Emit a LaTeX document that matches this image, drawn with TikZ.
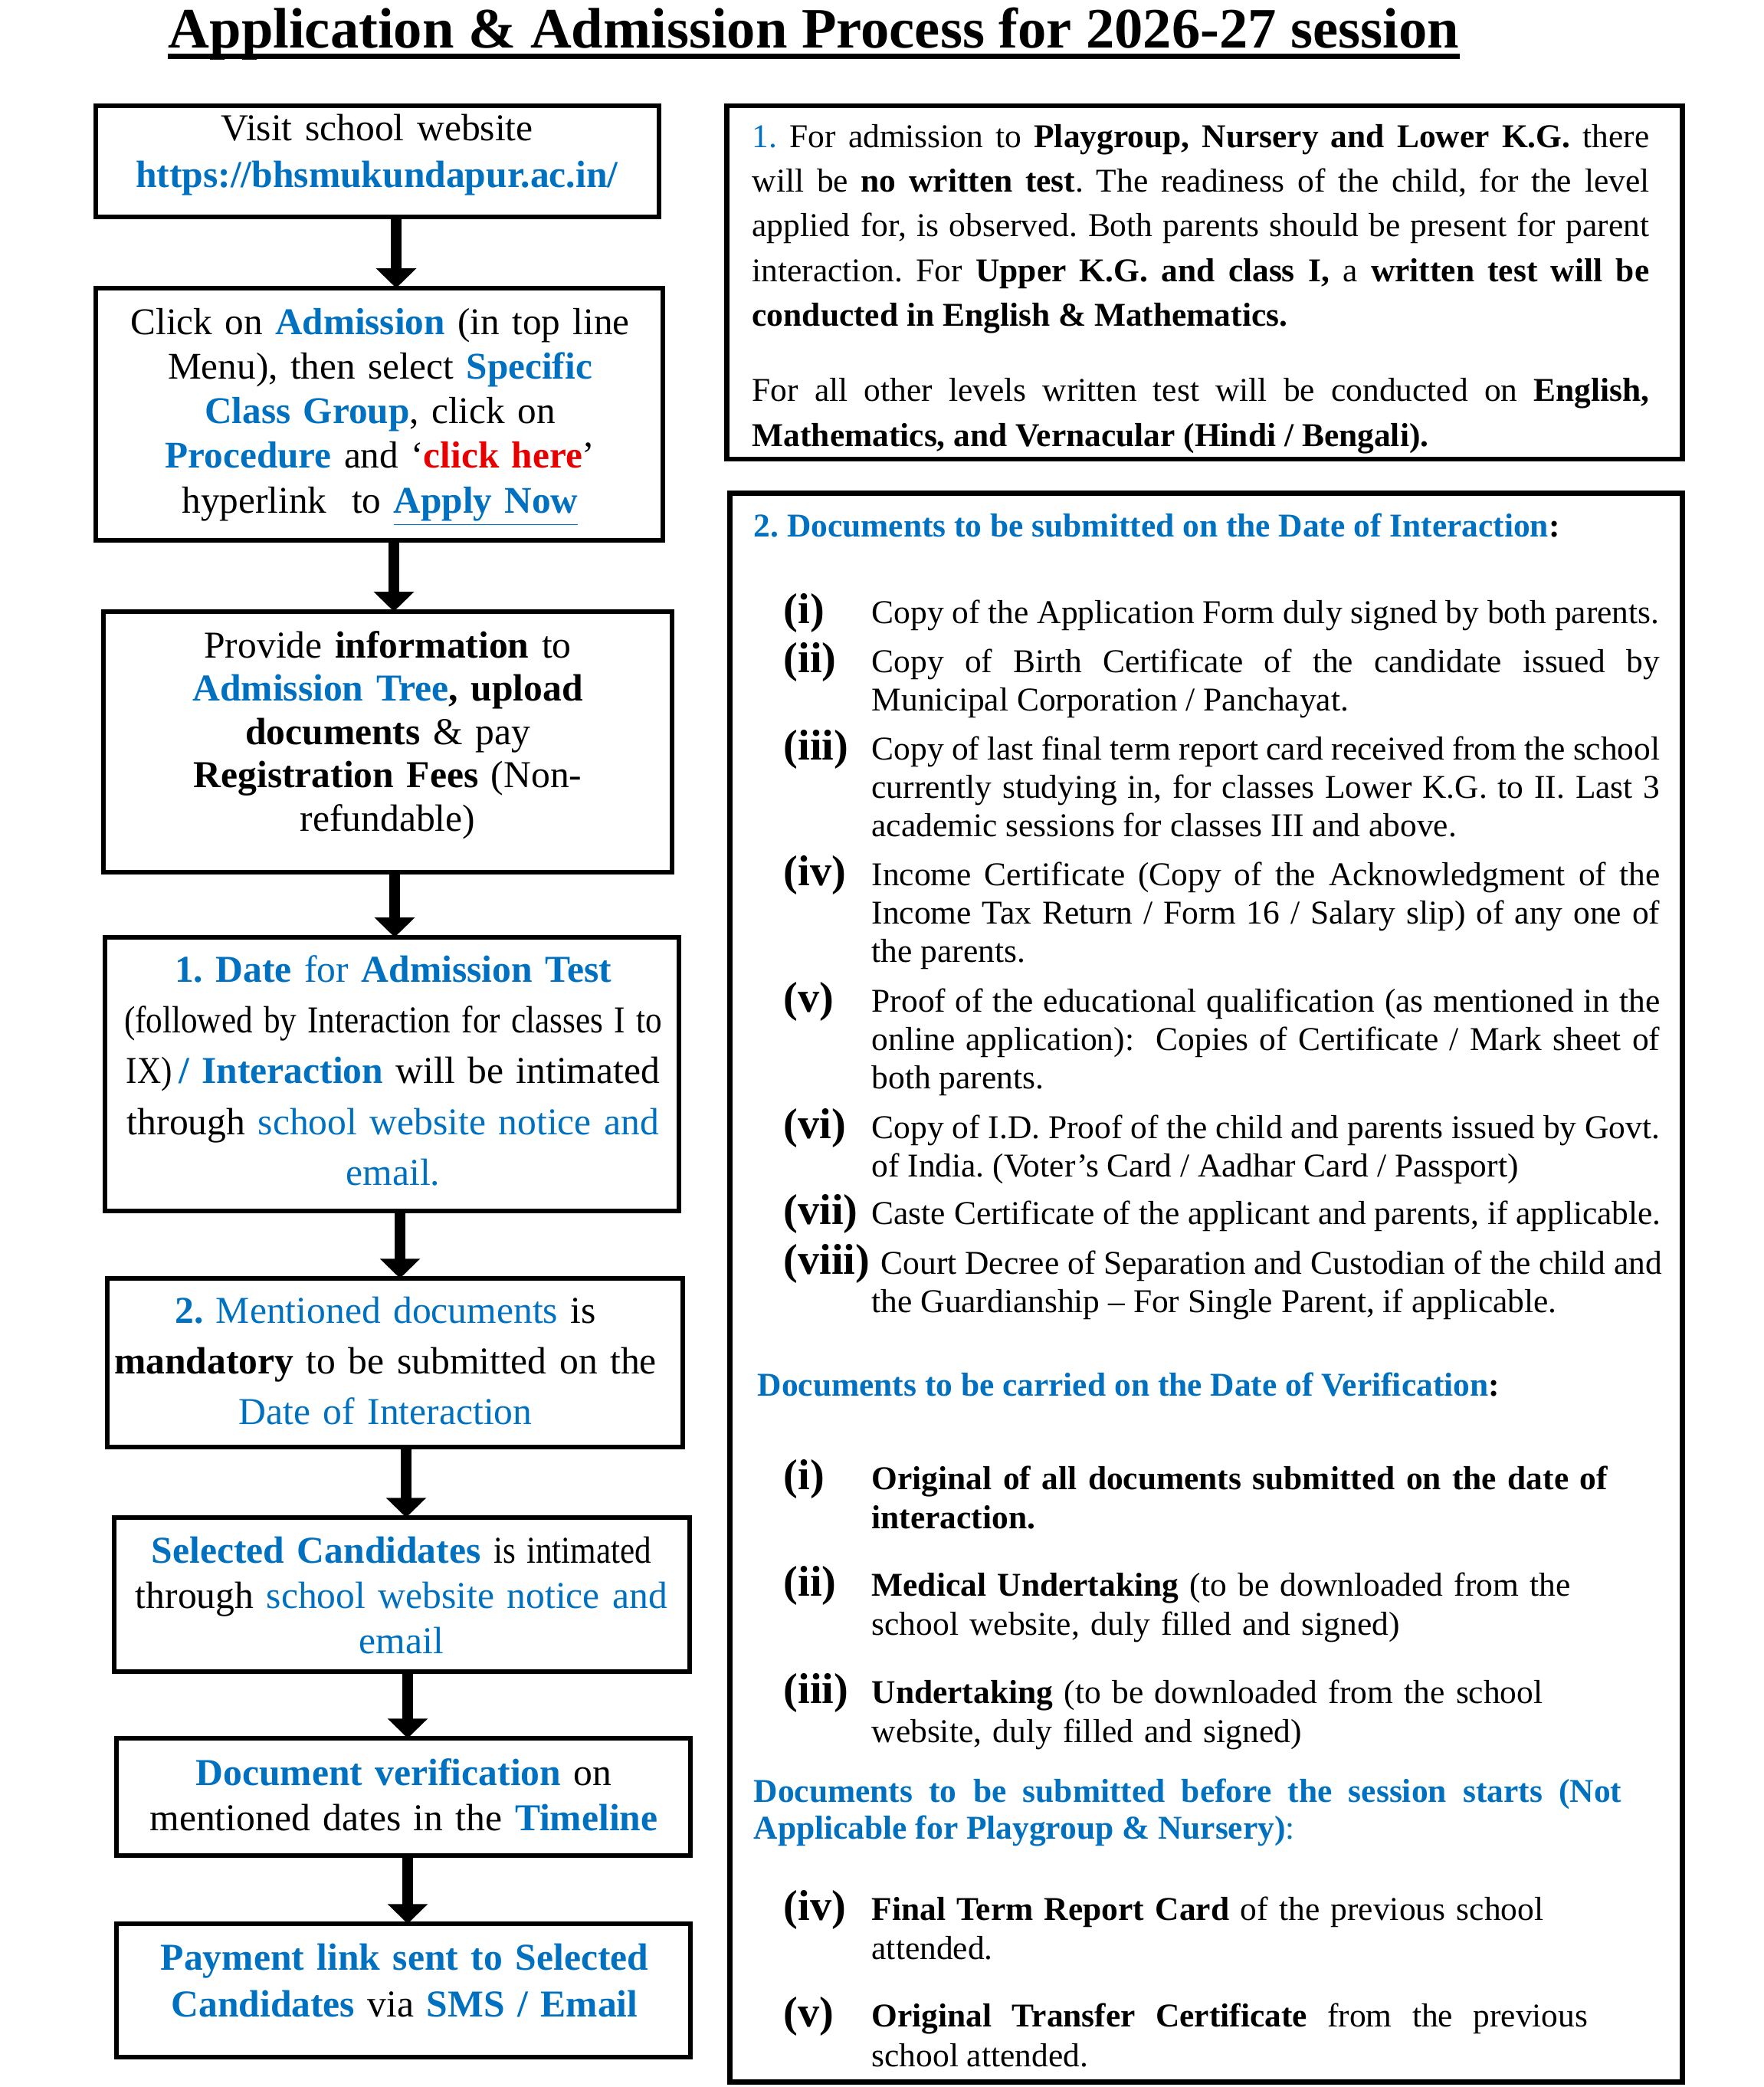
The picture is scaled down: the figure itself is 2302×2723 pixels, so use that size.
\documentclass[tikz,border=0pt]{standalone}
\usepackage{fontspec}
\usepackage{graphicx}
\setmainfont{Liberation Serif}
\usetikzlibrary{arrows.meta}
\definecolor{bl}{RGB}{0,112,192}
\definecolor{rd}{RGB}{232,0,0}
\newcommand\bb[1]{\textcolor{bl}{\textbf{#1}}}
\newcommand\bn[1]{\textcolor{bl}{#1}}
\newcommand\cnd[1]{\scalebox{0.87}[1]{#1}}
\frenchspacing
\begin{document}
\frenchspacing
\begin{tikzpicture}[x=0.01cm,y=-0.01cm,
  box/.style={draw, line width=1.85pt, inner sep=0pt, outer sep=0pt},
  arr/.style={line width=4pt, -{Triangle[width=14.5pt,length=7.3pt]}},
  ltx/.style={inner sep=0pt, anchor=base, text width=7.3cm, align=center},
  lab/.style={inner sep=0pt, anchor=base west, font=\fontsize{16}{16}\selectfont\bfseries},
  itx/.style={inner sep=0pt, anchor=base west, text width=10.28cm, align=justify, font=\fontsize{12.35}{14.3}\selectfont},
  one/.style={inner sep=0pt, anchor=base west, font=\fontsize{12.35}{14.3}\selectfont},
  rag/.style={inner sep=0pt, anchor=base west, text width=10.6cm, align=left, font=\fontsize{12.35}{14.5}\selectfont},
]
\useasboundingbox (0,0) rectangle (2302,2723);

% title
\node[inner sep=0pt, anchor=base, font=\fontsize{21.2}{24}\selectfont\bfseries] (title) at (1062,62)
  {Application \& Admission Process for 2026-27 session};
\draw[line width=2pt] ([yshift=-0.11cm]title.base west) -- ([yshift=-0.11cm]title.base east);

% left boxes
\node[box, minimum width=7.35cm, minimum height=1.45cm] (b1) at (492.5,210.5) {};
\node[box, minimum width=7.40cm, minimum height=3.29cm] (b2) at (495,540.5) {};
\node[box, minimum width=7.42cm, minimum height=3.40cm] (b3) at (506,968) {};
\node[box, minimum width=7.49cm, minimum height=3.57cm] (b4) at (511.5,1401.5) {};
\node[box, minimum width=7.51cm, minimum height=2.20cm] (b5) at (515.5,1778) {};
\node[box, minimum width=7.51cm, minimum height=2.01cm] (b6) at (524.5,2080.5) {};
\node[box, minimum width=7.49cm, minimum height=1.53cm] (b7) at (526.5,2344.5) {};
\node[box, minimum width=7.49cm, minimum height=1.74cm] (b8) at (526.5,2597) {};

% right boxes
\node[box, minimum width=12.46cm, minimum height=4.61cm] (r1) at (1572,368.5) {};
\node[box, minimum width=12.42cm, minimum height=20.72cm] (r2) at (1574,1680) {};

% arrows
\coordinate (x1) at (517,0);
\coordinate (x2) at (514,0);
\coordinate (x3) at (515,0);
\coordinate (x4) at (522,0);
\coordinate (x5) at (530,0);
\coordinate (x6) at (532,0);
\coordinate (x7) at (532,0);
\draw[arr] (b1.south -| x1) -- (b2.north -| x1);
\draw[arr] (b2.south -| x2) -- (b3.north -| x2);
\draw[arr] (b3.south -| x3) -- (b4.north -| x3);
\draw[arr] (b4.south -| x4) -- (b5.north -| x4);
\draw[arr] (b5.south -| x5) -- (b6.north -| x5);
\draw[arr] (b6.south -| x6) -- (b7.north -| x6);
\draw[arr] (b7.south -| x7) -- (b8.north -| x7);

% left texts
\node[ltx, font=\fontsize{14.1}{17.35}\selectfont] (t1) at (492,183)
  {Visit school website\\ \bb{https://bhsmukundapur.ac.in/}};
\node[ltx, font=\fontsize{14}{16.57}\selectfont] (t2) at (496,436)
  {Click on \bb{Admission} (in top line\\ Menu), then select \bb{Specific}\\ \bb{Class Group}, click on\\
   \bb{Procedure} and ‘\textcolor{rd}{\textbf{click here}}’\\ hyperlink\ \ to \textcolor{bl}{\textbf{\underline{Apply Now}}}};
\node[ltx, font=\fontsize{14.1}{16.07}\selectfont] (t3) at (506,858)
  {Provide \textbf{information} to\\ \bb{Admission Tree}\textbf{, upload}\\ \textbf{documents} \& pay\\
   \textbf{Registration Fees} (Non-\\ refundable)};
\node[ltx, font=\fontsize{14.1}{18.9}\selectfont] (t4) at (513,1281)
  {\bb{1. Date} \bn{for} \bb{Admission Test}\\ \cnd{(followed by Interaction for classes I to}\\
   \cnd{IX)}\,\bb{/ Interaction} will be intimated\\ through \bn{school website notice and}\\ \bn{email.}};
\node[ltx, font=\fontsize{14.1}{18.8}\selectfont] (t5) at (503,1726)
  {\bb{2.} \bn{Mentioned documents} is\\ \textbf{mandatory} to be submitted on the\\ \bn{Date of Interaction}};
\node[ltx, font=\fontsize{14.1}{16.8}\selectfont] (t6) at (524,2039)
  {\bb{Selected Candidates} \cnd{is intimated}\\ through \bn{school website notice and}\\ \bn{email}};
\node[ltx, font=\fontsize{14.1}{16.8}\selectfont] (t7) at (527,2329)
  {\bb{Document verification} on\\ mentioned dates in the \bb{Timeline}};
\node[ltx, font=\fontsize{14.1}{17.35}\selectfont] (t8) at (528,2570)
  {\bb{Payment link sent to Selected}\\ \bb{Candidates} via \bb{SMS / Email}};

% right panel 1
\node[inner sep=0pt, anchor=base west, text width=11.70cm, align=justify, font=\fontsize{12.35}{16.6}\selectfont] (p1) at (981,192)
  {\bn{1.} For admission to \textbf{Playgroup, Nursery and Lower K.G.} there\linebreak
   will be \textbf{no written test}. The readiness of the child, for the level\linebreak
   applied for, is observed. Both parents should be present for parent\linebreak
   interaction. For \textbf{Upper K.G. and class I,} a \textbf{written test will be}\linebreak
   \textbf{conducted in English \& Mathematics.}};
\node[inner sep=0pt, anchor=base west, text width=11.70cm, align=justify, font=\fontsize{12.35}{17}\selectfont] (p2) at (981,523)
  {For all other levels written test will be conducted on \textbf{English,}\linebreak
   \textbf{Mathematics, and Vernacular (Hindi / Bengali).}};

% right panel 2
\node[one, font=\fontsize{12.35}{14.3}\selectfont\bfseries] (h2) at (983,700)
  {\textcolor{bl}{2. Documents to be submitted on the Date of Interaction}:};

\node[lab] (l1) at (1022,813) {(i)};
\node[one] (i1) at (1137,813) {Copy of the Application Form duly signed by both parents.};
\node[lab] (l2) at (1022,877) {(ii)};
\node[itx] (i2) at (1137,877) {Copy of Birth Certificate of the candidate issued by\linebreak Municipal Corporation / Panchayat.};
\node[lab] (l3) at (1022,991) {(iii)};
\node[itx] (i3) at (1137,991) {Copy of last final term report card received from the school\linebreak
  currently studying in, for classes Lower K.G. to II. Last 3\linebreak academic sessions for classes III and above.};
\node[lab] (l4) at (1022,1155) {(iv)};
\node[itx] (i4) at (1137,1155) {Income Certificate (Copy of the Acknowledgment of the\linebreak
  Income Tax Return / Form 16 / Salary slip) of any one of\linebreak the parents.};
\node[lab] (l5) at (1022,1320) {(v)};
\node[itx] (i5) at (1137,1320) {Proof of the educational qualification (as mentioned in the\linebreak
  online application):\ \ Copies of Certificate / Mark sheet of\linebreak both parents.};
\node[lab] (l6) at (1022,1485) {(vi)};
\node[itx] (i6) at (1137,1485) {Copy of I.D. Proof of the child and parents issued by Govt.\linebreak
  of India. (Voter’s Card / Aadhar Card / Passport)};
\node[lab] (l7) at (1022,1597) {(vii)};
\node[one] (i7) at (1137,1597) {Caste Certificate of the applicant and parents, if applicable.};
\node[lab] (l8) at (1022,1662) {(viii)};
\node[one] (i8a) at (1149,1662) {Court Decree of Separation and Custodian of the child and};
\node[one] (i8b) at (1137,1712) {the Guardianship – For Single Parent, if applicable.};

% verification
\node[one, font=\fontsize{12.35}{14.3}\selectfont\bfseries] (h3) at (988,1821)
  {\textcolor{bl}{Documents to be carried on the Date of Verification}:};
\node[lab] (v1) at (1022,1943) {(i)};
\node[rag] (vt1) at (1137,1943) {\textbf{Original of all documents submitted on the date of}\\ \textbf{interaction.}};
\node[lab] (v2) at (1022,2082) {(ii)};
\node[rag] (vt2) at (1137,2082) {\textbf{Medical Undertaking} (to be downloaded from the\\ school website, duly filled and signed)};
\node[lab] (v3) at (1022,2222) {(iii)};
\node[rag] (vt3) at (1137,2222) {\textbf{Undertaking} (to be downloaded from the school\\ website, duly filled and signed)};

\node[inner sep=0pt, anchor=base west, text width=11.32cm, align=justify, font=\fontsize{12.35}{13.7}\selectfont] (h4) at (983,2351)
  {\textcolor{bl}{\textbf{Documents to be submitted before the session starts (Not\linebreak Applicable for Playgroup \& Nursery)}:}};
\node[lab] (v4) at (1022,2505) {(iv)};
\node[rag] (vt4) at (1137,2505) {\textbf{Final Term Report Card} of the previous school\\ attended.};
\node[lab] (v5) at (1022,2644) {(v)};
\node[inner sep=0pt, anchor=base west, text width=9.34cm, align=justify, font=\fontsize{12.35}{14.8}\selectfont] (vt5) at (1137,2644)
  {\textbf{Original Transfer Certificate} from the previous\linebreak school attended.};
\end{tikzpicture}
\end{document}
